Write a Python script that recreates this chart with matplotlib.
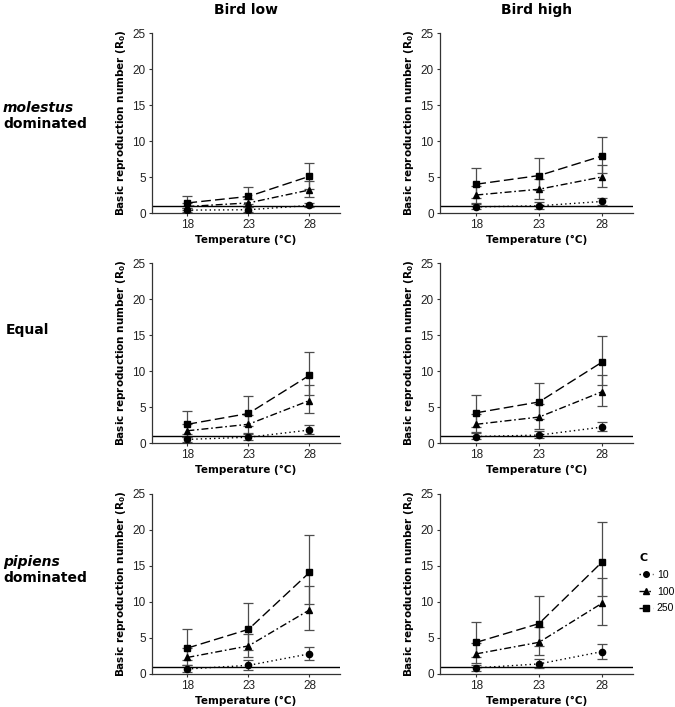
import matplotlib
matplotlib.use("Agg")
import matplotlib.pyplot as plt
from matplotlib.lines import Line2D

temps = [18, 23, 28]
conc = ["10", "100", "250"]
col_titles = ["Bird low", "Bird high"]
row_keys = ["molestus", "equal", "pipiens"]

# mean, lower, upper for each (row, bird level) and C value
mean = {
    ("molestus", 0): {"10": [0.4, 0.45, 1.05], "100": [0.9, 1.4, 3.2], "250": [1.4, 2.3, 5.1]},
    ("molestus", 1): {"10": [0.85, 1.0, 1.6], "100": [2.5, 3.3, 5.0], "250": [4.0, 5.2, 7.9]},
    ("equal", 0): {"10": [0.5, 0.8, 1.8], "100": [1.7, 2.6, 5.9], "250": [2.6, 4.1, 9.4]},
    ("equal", 1): {"10": [0.9, 1.1, 2.2], "100": [2.6, 3.6, 7.1], "250": [4.2, 5.7, 11.2]},
    ("pipiens", 0): {"10": [0.7, 1.2, 2.8], "100": [2.3, 3.9, 8.9], "250": [3.6, 6.2, 14.1]},
    ("pipiens", 1): {"10": [0.85, 1.4, 3.1], "100": [2.8, 4.4, 9.8], "250": [4.4, 7.0, 15.5]},
}
lower = {
    ("molestus", 0): {"10": [0.1, 0.2, 0.8], "100": [0.4, 0.8, 2.2], "250": [0.7, 1.2, 3.4]},
    ("molestus", 1): {"10": [0.5, 0.6, 1.1], "100": [1.4, 2.0, 3.6], "250": [2.1, 3.2, 5.5]},
    ("equal", 0): {"10": [0.2, 0.4, 1.3], "100": [0.9, 1.4, 4.2], "250": [1.3, 2.3, 6.6]},
    ("equal", 1): {"10": [0.5, 0.7, 1.6], "100": [1.5, 2.0, 5.1], "250": [2.2, 3.4, 8.1]},
    ("pipiens", 0): {"10": [0.3, 0.6, 1.9], "100": [1.2, 2.3, 6.1], "250": [1.9, 3.4, 9.7]},
    ("pipiens", 1): {"10": [0.4, 0.8, 2.1], "100": [1.5, 2.6, 6.8], "250": [2.3, 3.9, 10.8]},
}
upper = {
    ("molestus", 0): {"10": [0.7, 0.8, 1.4], "100": [1.4, 2.0, 4.4], "250": [2.4, 3.6, 6.9]},
    ("molestus", 1): {"10": [1.2, 1.5, 2.1], "100": [3.7, 4.7, 6.6], "250": [6.3, 7.6, 10.6]},
    ("equal", 0): {"10": [0.9, 1.3, 2.5], "100": [2.6, 3.9, 8.0], "250": [4.4, 6.5, 12.7]},
    ("equal", 1): {"10": [1.4, 1.7, 2.9], "100": [4.0, 5.4, 9.4], "250": [6.6, 8.3, 14.9]},
    ("pipiens", 0): {"10": [1.2, 1.9, 3.8], "100": [3.6, 5.6, 12.2], "250": [6.3, 9.9, 19.3]},
    ("pipiens", 1): {"10": [1.3, 2.1, 4.2], "100": [4.3, 6.5, 13.3], "250": [7.2, 10.9, 21.1]},
}

markers = {"10": "o", "100": "^", "250": "s"}
dashes = {"10": (1, 2.2), "100": (5, 2, 1.2, 2), "250": (7, 3)}

fig = plt.figure(figsize=(6.75, 7.07), dpi=100)
W, H = 675.0, 707.0
col_x = [(152, 188), (440, 193)]
row_y = [(33, 213), (263, 443), (494, 674)]

tick_font = ["Liberation Sans", "DejaVu Sans"]

for r, rk in enumerate(row_keys):
    for c in range(2):
        x0, w = col_x[c]
        yt, yb = row_y[r]
        ax = fig.add_axes([x0 / W, 1 - yb / H, w / W, (yb - yt) / H])
        key = (rk, c)
        for cv in conc:
            m = mean[key][cv]
            lo = [a - b for a, b in zip(m, lower[key][cv])]
            hi = [b - a for a, b in zip(m, upper[key][cv])]
            ax.errorbar(temps, m, yerr=[lo, hi], fmt="none", ecolor="#4d4d4d",
                        elinewidth=0.9, capsize=3.5, capthick=0.9, zorder=2)
            ax.plot(temps, m, color="black", lw=1.0, dashes=dashes[cv],
                    marker=markers[cv], markersize=4.5, zorder=3)
        ax.axhline(1, color="black", lw=1.0, zorder=1)
        ax.set_xlim(15.1, 30.5)
        ax.set_ylim(0, 25)
        ax.set_xticks(temps)
        ax.set_yticks([0, 5, 10, 15, 20, 25])
        for s in ["top", "right"]:
            ax.spines[s].set_visible(False)
        for s in ["left", "bottom"]:
            ax.spines[s].set_color("#333333")
            ax.spines[s].set_linewidth(0.9)
        ax.tick_params(length=2.5, width=0.8, color="#333333", labelcolor="#222222",
                       labelsize=8.5, pad=2)
        for lab in ax.get_xticklabels() + ax.get_yticklabels():
            lab.set_family(tick_font)
        ax.set_xlabel("Temperature (°C)", fontsize=7.5, fontweight="bold", labelpad=3)
        ax.set_ylabel(r"Basic reproduction number (R$\mathregular{_0}$)", fontsize=7.5,
                      fontweight="bold", labelpad=3)
        if r == 0:
            ax.set_title(col_titles[c], fontsize=10, fontweight="bold", pad=14)

# row labels
fig.text(3 / W, 1 - 108 / H, "molestus", fontsize=10, fontweight="bold",
         style="italic", va="center", ha="left")
fig.text(3 / W, 1 - 124 / H, "dominated", fontsize=10, fontweight="bold",
         va="center", ha="left")
fig.text(6 / W, 1 - 330 / H, "Equal", fontsize=10, fontweight="bold",
         va="center", ha="left")
fig.text(3 / W, 1 - 562 / H, "pipiens", fontsize=10, fontweight="bold",
         style="italic", va="center", ha="left")
fig.text(3 / W, 1 - 578 / H, "dominated", fontsize=10, fontweight="bold",
         va="center", ha="left")

# legend
handles = [Line2D([], [], color="black", lw=1.0, dashes=dashes[cv],
                  marker=markers[cv], markersize=4) for cv in conc]
leg = fig.legend(handles, conc, title="C", loc="upper left",
                 bbox_to_anchor=(639 / W, 1 - 553 / H), frameon=False,
                 borderpad=0, borderaxespad=0,
                 handlelength=1.3, handletextpad=0.4, labelspacing=0.65,
                 prop={"family": tick_font, "size": 7.5})
leg.get_title().set_fontweight("bold")
leg.get_title().set_fontsize(8)
leg._legend_box.align = "left"

fig.savefig("out.png", dpi=100)
